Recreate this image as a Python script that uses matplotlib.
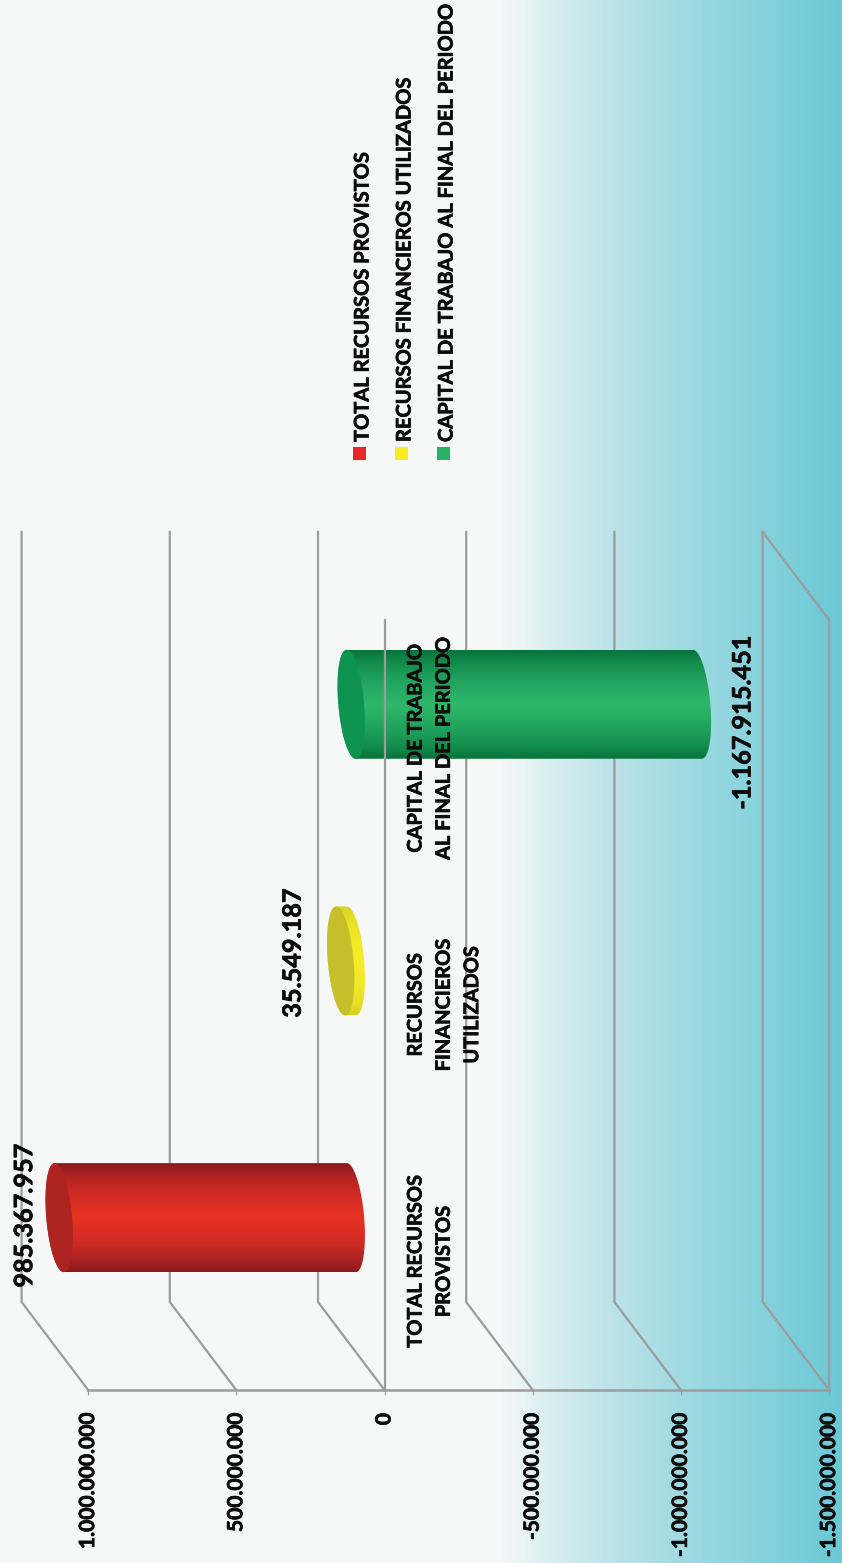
import numpy as np
import matplotlib
matplotlib.use("Agg")
import matplotlib.pyplot as plt
import matplotlib.patheffects as pe
from matplotlib.path import Path
from matplotlib.patches import PathPatch, Rectangle

# datos
categories = ["TOTAL RECURSOS\nPROVISTOS", "RECURSOS\nFINANCIEROS\nUTILIZADOS", "CAPITAL DE TRABAJO\nAL FINAL DEL PERIODO"]
values = [985367957, 35549187, -1167915451]
value_labels = ["985.367.957", "35.549.187", "-1.167.915.451"]
legend_names = ["TOTAL RECURSOS PROVISTOS", "RECURSOS FINANCIEROS UTILIZADOS", "CAPITAL DE TRABAJO AL FINAL DEL PERIODO"]
axis_ticks = [1000000000, 500000000, 0, -500000000, -1000000000, -1500000000]
axis_tick_labels = ["1.000.000.000", "500.000.000", "0", "-500.000.000", "-1.000.000.000", "-1.500.000.000"]

W, H = 842, 1563
PX_PER_VALUE = 296.4 / 1e9   # px por unidad, eje horizontal
PX_PER_CAT = 256.7
ZERO_PX = 384.5
FLOOR_PX = 1390

DEPTH_X = 66.5 / PX_PER_VALUE
DEPTH_Y = 88 / PX_PER_CAT
ELL_A = 12.9 / PX_PER_VALUE
ELL_SKEW = 4.5 / PX_PER_VALUE
ELL_B = 54.5 / PX_PER_CAT

GRID = "#9c9c9c"
FONT = "Lato"
INK = "#0c0c0c"
THICK = [pe.withStroke(linewidth=0.5, foreground=INK)]

bar_stops = [0, 0.1, 0.25, 0.5, 0.75, 0.9, 1]
bar_shades = [
    ["#8b1a1c", "#ab2222", "#cc2a25", "#e83222", "#cc2a25", "#aa2222", "#8b1a1c"],
    ["#d8d024", "#e6de25", "#efe726", "#f5ed28", "#efe726", "#e6de25", "#d8d024"],
    ["#08733d", "#128a4b", "#1f9f5c", "#2fb86b", "#20a05d", "#118a4a", "#08733d"],
]
cap_colors = ["#ae2421", "#c6bf2c", "#0e9450"]
legend_colors = ["#e92727", "#f6ec22", "#24b467"]
# desplazamiento de cada etiqueta de valor respecto a la barra (px)
label_offsets = [(-34.5, 2), (-47.5, 8), (45.5, -18)]

plt.rcParams["font.family"] = [FONT, "DejaVu Sans"]
plt.rcParams["font.weight"] = "bold"

fig = plt.figure(figsize=(W / 100, H / 100), dpi=100)

# fondo degradado
bg = fig.add_axes([0, 0, 1, 1], zorder=0)
xs = np.arange(W)
stops_x = [0, 500, 537, 600, 680, 760, 842]
stops_rgb = np.array([[246, 247, 247], [246, 247, 247], [224, 241, 243], [192, 229, 234], [162, 218, 226], [134, 210, 220], [107, 200, 213]]) / 255
grad = np.stack([np.interp(xs, stops_x, stops_rgb[:, i]) for i in range(3)], axis=1)[None, :, :]
bg.imshow(grad, aspect="auto", extent=(0, W, 0, 1))
bg.axis("off")

ax = fig.add_axes([0, (H - FLOOR_PX) / H, 1, FLOOR_PX / H], zorder=1)
ax.patch.set_alpha(0)
x_left = ZERO_PX / PX_PER_VALUE
x_right = (ZERO_PX - W) / PX_PER_VALUE
y_low = -0.5
y_high = -0.5 + FLOOR_PX / PX_PER_CAT
top_front = len(categories) - 0.5
top_back = top_front + DEPTH_Y

# paredes en perspectiva
for v in axis_ticks:
    ax.plot([v, v + DEPTH_X, v + DEPTH_X], [y_low, y_low + DEPTH_Y, top_back], color=GRID, lw=1.6, zorder=2, clip_on=False)
low = axis_ticks[-1]
ax.plot([low + DEPTH_X, low, low], [top_back, top_front, y_low], color=GRID, lw=1.6, zorder=2)
ax.plot([0, 0], [y_low, top_front], color=GRID, lw=1.6, zorder=6)


def ellipse(cx, cy, t):
    return cx + ELL_A * np.cos(t) + ELL_SKEW * np.sin(t), cy + ELL_B * np.sin(t)


# cilindros
for i, v in enumerate(values):
    cy = i + DEPTH_Y / 2
    high_v = max(v, 0) + DEPTH_X / 2
    low_v = min(v, 0) + DEPTH_X / 2
    # contorno del cuerpo: media elipse del lado alto + media del lado bajo
    hx, hy = ellipse(high_v, cy, np.linspace(-np.pi / 2, np.pi / 2, 60))
    lx, ly = ellipse(low_v, cy, np.linspace(np.pi / 2, 3 * np.pi / 2, 60))
    body = np.column_stack([np.r_[hx, lx], np.r_[hy, ly]])
    clip = PathPatch(Path(np.vstack([body, body[0]])), transform=ax.transData, fc="none", ec="none")
    ax.add_patch(clip)
    rgb = np.array([matplotlib.colors.to_rgb(c) for c in bar_shades[i]])
    yy = np.linspace(0, 1, 128)
    shade = np.stack([np.interp(yy, bar_stops, rgb[:, k]) for k in range(3)], axis=1)[:, None, :]
    im = ax.imshow(shade, aspect="auto", origin="lower", zorder=4,
                   extent=(high_v + 2 * ELL_A, low_v - 2 * ELL_A, cy - ELL_B, cy + ELL_B))
    im.set_clip_path(clip)
    # tapa
    ex, ey = ellipse(high_v, cy, np.linspace(0, 2 * np.pi, 120))
    ax.fill(ex, ey, color=cap_colors[i], lw=0, zorder=5)

    dx, dy = label_offsets[i]
    anchor = v + DEPTH_X / 2
    ax.annotate(value_labels[i], (anchor, cy), xytext=(dx * 0.72, dy * 0.72), textcoords="offset points",
                rotation=90, ha="center", va="center", fontsize=18.2, fontweight="bold", color=INK, zorder=8,
                path_effects=THICK)
    ax.annotate(categories[i], (0, i), xytext=(21 * 0.72, 0), textcoords="offset points", rotation=90,
                ha="left", va="center", multialignment="center", linespacing=1.52, fontsize=14.4,
                fontweight="bold", color=INK, zorder=8, path_effects=THICK)

ax.set_xlim(x_left, x_right)
ax.set_ylim(y_low, y_high)

# eje de valores
ax.set_xticks(axis_ticks)
ax.set_xticklabels(axis_tick_labels, rotation=90, fontsize=15.1, fontweight="bold", color=INK, va="top", path_effects=THICK)
ax.tick_params(axis="x", length=3.6, width=0.8, color=GRID, pad=13)
ax.set_yticks([])
for s in ["top", "left", "right"]:
    ax.spines[s].set_visible(False)
ax.spines["bottom"].set_bounds(axis_ticks[-1], axis_ticks[0])
ax.spines["bottom"].set_color(GRID)
ax.spines["bottom"].set_linewidth(1.8)

# leyenda
leg_x = [353, 395, 437]
for x0, name, c in zip(leg_x, legend_names, legend_colors):
    fig.add_artist(Rectangle((x0 / W, 1 - 460 / H), 13 / W, 13 / H, transform=fig.transFigure, fc=c, ec="none"))
    fig.text((x0 + 9.5) / W, 1 - 442 / H, name, rotation=90, ha="center", va="bottom", fontsize=14.45,
             fontweight="bold", color=INK, path_effects=THICK)

fig.savefig("out.png", dpi=100)
